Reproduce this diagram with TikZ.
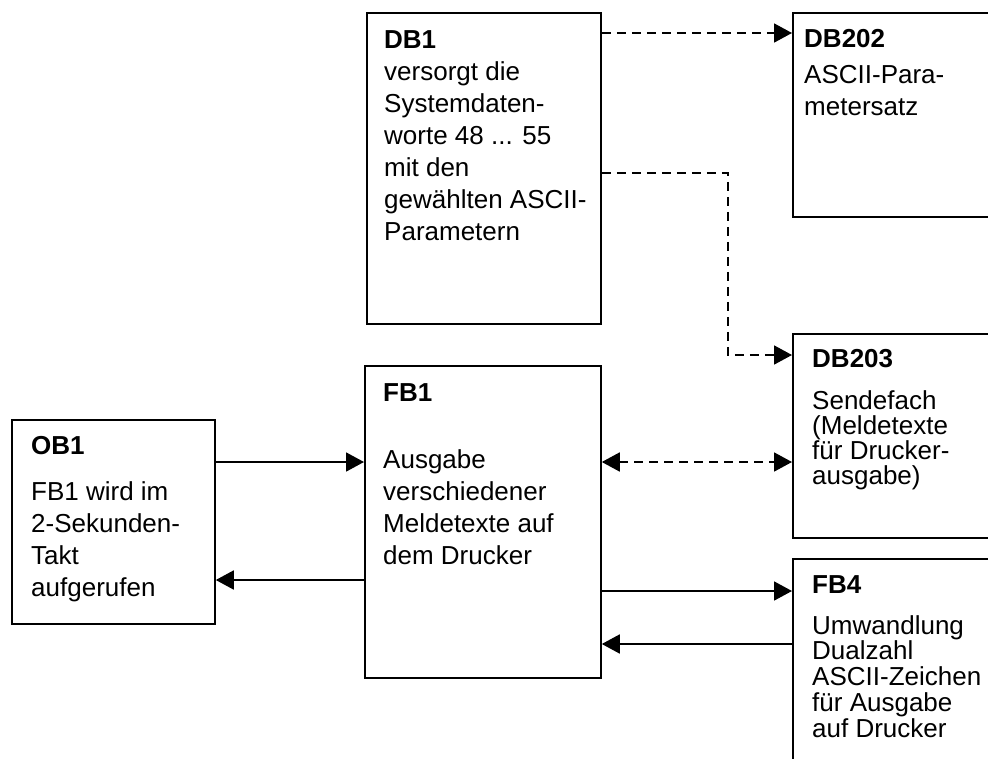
\documentclass[tikz,border=0pt]{standalone}
\usepackage{fontspec}
\setmainfont{Liberation Sans}
\usetikzlibrary{arrows.meta}

% block text: #1 line skip, #2 extra space under the title, #3 title, #4 body lines
\newcommand{\blocktext}[4]{%
  \parbox[t]{400pt}{\fontsize{26}{#1}\selectfont\lineskiplimit=-100pt
    \textbf{#3}\\[#2]#4}}

\begin{document}
\begin{tikzpicture}[x=1pt,y=-1pt,
  blockbox/.style={draw, line width=1.8pt, rectangle, inner sep=0pt, anchor=north west},
  blocklabel/.style={anchor=base west, inner sep=0pt, text=black},
  flow/.style={line width=1.8pt, -{Triangle[length=18pt,width=19pt]}},
  dataflow/.style={flow, dash pattern=on 9pt off 6pt},
]
\useasboundingbox[fill=white] (0,0) rectangle (988,758);
\clip (0,0) rectangle (988,758);

% blocks
\node[blockbox, minimum width=203pt, minimum height=204pt] (ob1) at (11,419) {};
\node[blockbox, minimum width=236pt, minimum height=312pt] (fb1) at (364,365) {};
\node[blockbox, minimum width=234pt, minimum height=311pt] (db1) at (366,12) {};
\node[blockbox, minimum width=240pt, minimum height=204pt] (db202) at (792,12) {};
\node[blockbox, minimum width=240pt, minimum height=204pt] (db203) at (792,333) {};
\node[blockbox, minimum width=240pt, minimum height=260pt] (fb4) at (792,558) {};

% block texts
\node[blocklabel] (ob1txt) at (31,454) {\blocktext{32pt}{14pt}{OB1}{FB1 wird im\\2-Sekunden-\\Takt\\aufgerufen}};
\node[blocklabel] (fb1txt) at (383,401) {\blocktext{32pt}{35pt}{FB1}{Ausgabe\\verschiedener\\Meldetexte auf\\dem Drucker}};
\node[blocklabel] (db1txt) at (384,48) {\blocktext{32pt}{0pt}{DB1}{versorgt die\\Systemdaten-\\worte 48 ... 55\\mit den\\gewählten ASCII-\\Parametern}};
\node[blocklabel] (db202txt) at (804,47) {\blocktext{32pt}{4pt}{DB202}{ASCII-Para-\\metersatz}};
\node[blocklabel] (db203txt) at (812,367) {\blocktext{25.3pt}{16.7pt}{DB203}{Sendefach\\(Meldetexte\\für Drucker-\\ausgabe)}};
\node[blocklabel] (fb4txt) at (812,593) {\blocktext{25.8pt}{15.2pt}{FB4}{Umwandlung\\Dualzahl\\ASCII-Zeichen\\für Ausgabe\\auf Drucker}};

% calls between OB1 and FB1
\draw[flow] (ob1.east |- 0,462) -- (fb1.west |- 0,462);
\draw[flow] (fb1.west |- 0,580) -- (ob1.east |- 0,580);

% calls between FB1 and FB4
\draw[flow] (fb1.east |- 0,591) -- (fb4.west |- 0,591);
\draw[flow] (fb4.west |- 0,644) -- (fb1.east |- 0,644);

% data paths
\draw[dataflow, {Triangle[length=18pt,width=19pt]}-{Triangle[length=18pt,width=19pt]}]
  (fb1.east |- 0,462) -- (db203.west |- 0,462);
\draw[dataflow] (db1.east |- 0,33) -- (db202.west |- 0,33);
\coordinate (bend) at (728,355);
\draw[dataflow] (db1.east |- 0,173) -| (bend) -- (db203.west |- bend);
\end{tikzpicture}
\end{document}
